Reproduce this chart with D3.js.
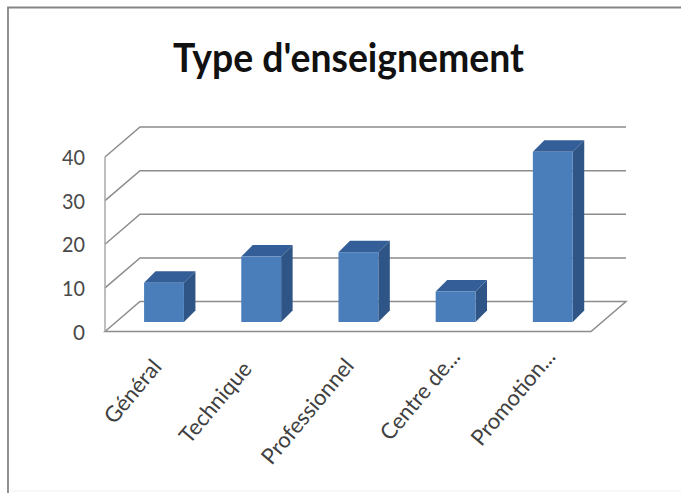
<!DOCTYPE html>
<html><head><meta charset="utf-8">
<script src="https://cdnjs.cloudflare.com/ajax/libs/d3/7.8.5/d3.min.js"></script>
<style>html,body{margin:0;padding:0;background:#fff}svg{display:block}</style></head>
<body><svg id="c" width="681" height="493"></svg>
<script>
const titleText = "Type d'enseignement";
const categories = ["Général","Technique","Professionnel","Centre de...","Promotion..."];
const values = [9,15,16,7,39];
const yTicks = [0,10,20,30,40];

const svg = d3.select("#c");
const font="Lato, sans-serif";

// 3D projection settings
const depthX=35, depthY=30;
const barDX=10.4, barDY=9.5, barDepthX=11.5, barDepthY=11.5;
const x = d3.scaleBand().domain(categories).range([105,591]).paddingInner(0.59).paddingOuter(0.295);
const y = d3.scaleLinear().domain([0,40]).range([331.5,157]);
const unit = y(0)-y(1);
// small per-label layout nudges, matching the source's irregular label placement
const nudgeX = d3.scaleOrdinal().domain(categories).range([-3,-10,-5,4,2]);
const nudgeY = d3.scaleOrdinal().domain(categories).range([7,9,6,-3,-3]);

svg.append("path").attr("d","M8,493V7.5H681").attr("fill","none").attr("stroke","#858585").attr("stroke-width",1.8);
svg.append("path").attr("d","M10,491H681").attr("fill","none").attr("stroke","#f0f0f0").attr("stroke-width",1);

svg.append("text").attr("x",348.5).attr("y",72).attr("text-anchor","middle")
  .attr("font-family",font).attr("font-weight",700).attr("font-size",41).attr("fill","#111")
  .attr("textLength",351).attr("lengthAdjust","spacingAndGlyphs").text(titleText);

const g=svg.append("g").attr("fill","none").attr("stroke","#8c8c8c").attr("stroke-width",1.5);
yTicks.forEach(t=>{
  if(t>0) g.append("path").attr("d",`M105,${y(t)}L${105+depthX},${y(t)-depthY}H${591+depthX}`);
});
g.append("path").attr("d",`M105,${y(0)}L${105+depthX},${y(0)-depthY}H${591+depthX}L591,${y(0)}Z`);
g.append("path").attr("d",`M105,${y(0)}V${y(40)}`).attr("stroke","#a8a8a8");

svg.append("g").selectAll("text").data(yTicks).join("text")
  .attr("x",85).attr("y",d=>y(d)+8).attr("text-anchor","end")
  .attr("font-family",font).attr("font-size",22).attr("fill","#4a4a4a")
  .attr("textLength",d=>d===0?12:23).attr("lengthAdjust","spacingAndGlyphs").text(d=>d);

const bars=svg.append("g").selectAll("g").data(categories.map((c,i)=>({c,v:values[i]}))).join("g");
bars.each(function(d){
  const s=d3.select(this);
  const x0=x(d.c)+barDX, bw=x.bandwidth(), x1=x0+bw;
  const yb=y(0)-barDY, yt=yb-d.v*unit;
  s.append("path").attr("fill","#2f5587")
    .attr("d",`M${x1},${yb}V${yt}L${x1+barDepthX},${yt-barDepthY}V${yb-barDepthY}Z`);
  s.append("path").attr("fill","#345e98")
    .attr("d",`M${x0},${yt}L${x0+barDepthX},${yt-barDepthY}H${x1+barDepthX}L${x1},${yt}Z`);
  s.append("rect").attr("x",x0).attr("y",yt).attr("width",bw).attr("height",yb-yt).attr("fill","#4a7ebb");
});

svg.append("g").selectAll("text").data(categories).join("text")
  .attr("transform",d=>`translate(${x(d)+x.bandwidth()/2+2+nudgeX(d)},${352+nudgeY(d)}) rotate(-50)`)
  .attr("text-anchor","end").attr("dy","0.6em")
  .attr("font-family",font).attr("font-size",22).attr("fill","#404040").text(d=>d);
</script></body></html>
